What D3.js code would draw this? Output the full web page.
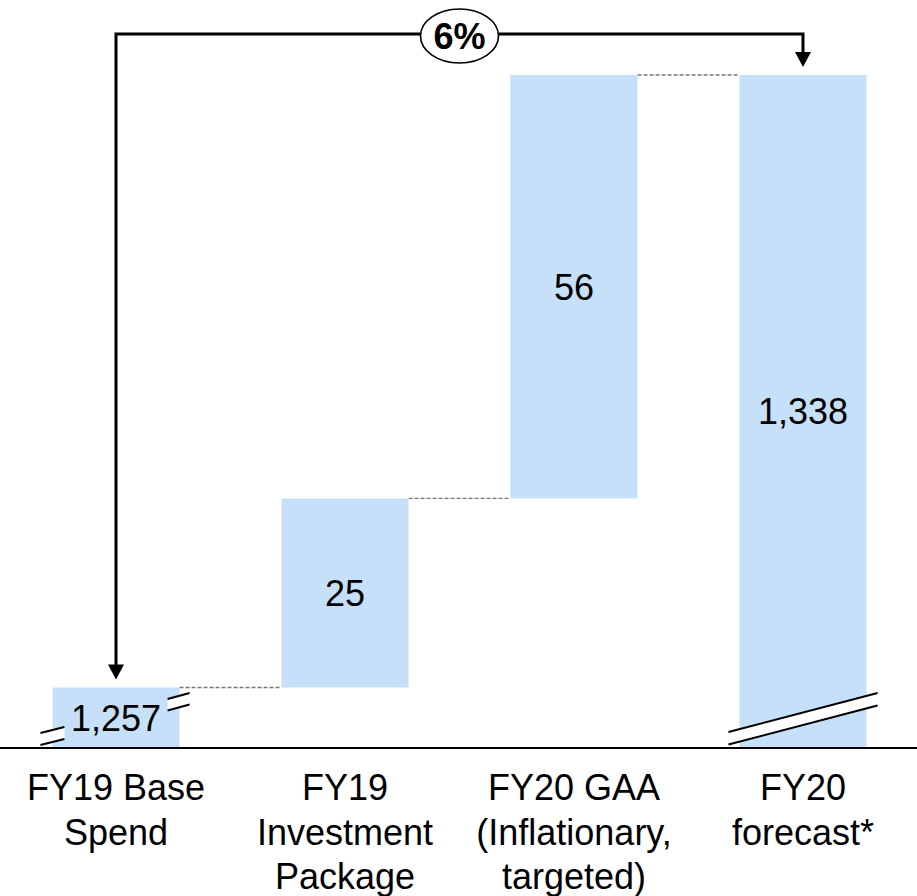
<!DOCTYPE html>
<html>
<head>
<meta charset="utf-8">
<script src="https://cdn.jsdelivr.net/npm/d3@7"></script>
<style>
  html, body { margin: 0; padding: 0; background: #fff; }
  svg { display: block; font-family: "Liberation Sans", Arial, sans-serif; }
</style>
</head>
<body>
<svg id="chart" width="917" height="896"></svg>
<script>
// Spend bridge: FY19 base -> FY20 forecast
const categories = ["FY19 Base Spend", "FY19 Investment Package", "FY20 GAA (Inflationary, targeted)", "FY20 forecast*"];
const categoryLines = [
  ["FY19 Base", "Spend"],
  ["FY19", "Investment", "Package"],
  ["FY20 GAA", "(Inflationary,", "targeted)"],
  ["FY20", "forecast*"]
];
const values = [1257, 25, 56, 1338];
const kinds = ["total", "delta", "delta", "total"];
const valueLabels = ["1,257", "25", "56", "1,338"];
const growthLabel = "6%";

const W = 917, H = 896;
const baseY = 748;
const barColor = "#c6e0fa";

const svg = d3.select("#chart");

// Waterfall steps
let running = 0;
const steps = categories.map((c, i) => {
  let start, end;
  if (kinds[i] === "total") { start = null; end = values[i]; }
  else { start = running; end = running + values[i]; }
  running = end;
  return { cat: c, lines: categoryLines[i], value: values[i], kind: kinds[i], start, end, label: valueLabels[i] };
});

// Broken value axis: totals are cut off below the axis break
const yMin = 1249;
const y = d3.scaleLinear().domain([yMin, 1338]).range([baseY, 75]);

const x = d3.scaleBand().domain(categories).range([1.5, 917.5])
  .paddingInner(0.445).paddingOuter(0.2225);

// Dashed connectors between consecutive bar tops
const conn = svg.append("g");
for (let i = 0; i < steps.length - 1; i++) {
  const lvl = steps[i].end;
  conn.append("line")
    .attr("x1", x(steps[i].cat) + x.bandwidth())
    .attr("x2", x(steps[i + 1].cat))
    .attr("y1", y(lvl)).attr("y2", y(lvl))
    .attr("stroke", "#777").attr("stroke-width", 1.3)
    .attr("stroke-dasharray", "4,2");
}

// Bars
svg.append("g").selectAll("rect").data(steps).join("rect")
  .attr("x", d => x(d.cat))
  .attr("width", x.bandwidth())
  .attr("y", d => y(d.end))
  .attr("height", d => (d.kind === "total" ? baseY : y(d.start)) - y(d.end))
  .attr("fill", barColor);

// Axis break marks
const breaks = svg.append("g");
function breakMark(x1, y1, x2, y2, gap) {
  breaks.append("path")
    .attr("d", `M${x1},${y1}L${x2},${y2}L${x2},${y2 + gap}L${x1},${y1 + gap}Z`)
    .attr("fill", "#fff");
  [0, gap].forEach(g => breaks.append("line")
    .attr("x1", x1).attr("y1", y1 + g).attr("x2", x2).attr("y2", y2 + g)
    .attr("stroke", "#000").attr("stroke-width", 2));
}
const b0 = x(categories[0]);
breakMark(b0 - 12, 733, b0 + 12, 727, 12);
breakMark(b0 + x.bandwidth() - 12, 699, b0 + x.bandwidth() + 10, 693, 11.5);
const b3 = x(categories[3]);
breakMark(b3 - 11, 732, b3 + x.bandwidth() + 11, 693, 12.5);

// Baseline
svg.append("line").attr("x1", 0).attr("x2", W).attr("y1", baseY).attr("y2", baseY)
  .attr("stroke", "#000").attr("stroke-width", 2);

// Value labels
svg.append("g").selectAll("text").data(steps).join("text")
  .attr("x", d => x(d.cat) + x.bandwidth() / 2)
  .attr("y", d => {
    const top = y(d.end);
    const bot = d.kind === "total" ? baseY : y(d.start);
    return (top + bot) / 2;
  })
  .attr("dy", "0.36em")
  .attr("text-anchor", "middle")
  .attr("font-size", 36)
  .attr("fill", "#000")
  .text(d => d.label);

// Category labels
const cl = svg.append("g").selectAll("text").data(steps).join("text")
  .attr("x", d => x(d.cat) + x.bandwidth() / 2)
  .attr("y", 800)
  .attr("text-anchor", "middle")
  .attr("font-size", 36)
  .attr("fill", "#000");
cl.selectAll("tspan").data(d => d.lines.map(l => ({ l, cx: x(d.cat) + x.bandwidth() / 2 })))
  .join("tspan")
  .attr("x", d => d.cx)
  .attr("dy", (d, i) => i === 0 ? 0 : 44.5)
  .text(d => d.l);

// Growth arrow from first total to last total
const ax1 = x(categories[0]) + x.bandwidth() / 2;
const ax2 = x(categories[3]) + x.bandwidth() / 2;
const topY = 34;
const tip1 = y(steps[0].end) - 8;
const tip2 = y(steps[3].end) - 8;
const headH = 15, headW = 8;
const arrow = svg.append("g");
arrow.append("path")
  .attr("d", `M${ax1},${tip1 - headH + 1}V${topY}H${ax2}V${tip2 - headH + 1}`)
  .attr("fill", "none").attr("stroke", "#000").attr("stroke-width", 3);
[[ax1, tip1], [ax2, tip2]].forEach(([ax, t]) => arrow.append("path")
  .attr("d", `M${ax - headW},${t - headH}L${ax + headW},${t - headH}L${ax},${t}Z`)
  .attr("fill", "#000"));

const ecx = (ax1 + ax2) / 2;
arrow.append("ellipse")
  .attr("cx", ecx).attr("cy", 36).attr("rx", 39).attr("ry", 27)
  .attr("fill", "#fff").attr("stroke", "#000").attr("stroke-width", 1.6);
arrow.append("text")
  .attr("x", ecx).attr("y", 36).attr("dy", "0.36em")
  .attr("text-anchor", "middle").attr("font-size", 36).attr("font-weight", "bold")
  .text(growthLabel);
</script>
</body>
</html>
